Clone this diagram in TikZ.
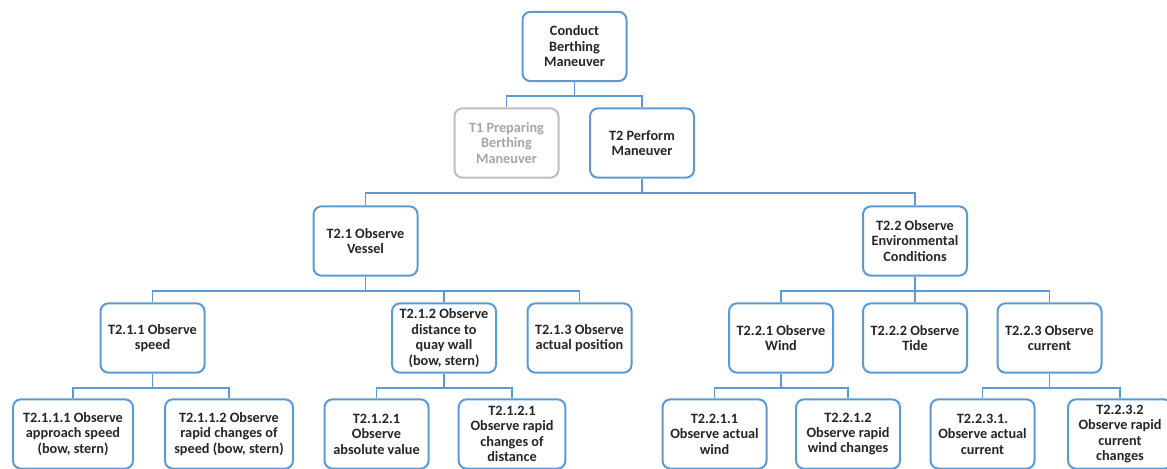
\documentclass[tikz,border=0pt]{standalone}
\usepackage{fontspec}
\setmainfont{Carlito}
\definecolor{taskblue}{RGB}{91,155,213}
\definecolor{greyout}{RGB}{190,190,190}
\definecolor{greytext}{RGB}{165,165,165}
\begin{document}
\begin{tikzpicture}[
    x=0.75pt, y=-0.75pt,
    task/.style={draw=taskblue, line width=1.5pt, rounded corners=6pt, fill=white,
        align=center, inner sep=2pt, minimum width=78pt, minimum height=52pt,
        text=black!85, font=\fontsize{10.7}{11.6}\selectfont\bfseries},
    inactive/.style={task, draw=greyout, text=greytext},
    edge/.style={draw=taskblue, line width=1.4pt}
]
\path[use as bounding box, clip] (0,0) rectangle (1167,468);

% Top: goal and first split
\node[task] (goal) at (574.5,46.5) {Conduct\\Berthing\\Maneuver};
\node[inactive] (t1) at (506.5,143) {T1 Preparing\\Berthing\\Maneuver};
\node[task] (t2) at (642,143) {T2 Perform\\Maneuver};

\draw[edge] (goal.south) -- ++(0,14) -| (t1.north);
\draw[edge] (goal.south) -- ++(0,14) -| (t2.north);

% Second level
\node[task] (t21) at (365.5,241) {T2.1 Observe\\Vessel};
\node[task] (t22) at (915,241) {T2.2 Observe\\Environmental\\Conditions};

\draw[edge] (t2.south) -- ++(0,14) -| (t21.north);
\draw[edge] (t2.south) -- ++(0,14) -| (t22.north);

% Left branch: vessel
\node[task] (t211) at (152.5,338) {T2.1.1 Observe\\speed};
\node[task] (t212) at (444,338) {T2.1.2 Observe\\distance to\\quay wall\\(bow, stern)};
\node[task] (t213) at (579.5,338) {T2.1.3 Observe\\actual position};

\draw[edge] (t21.south) -- ++(0,14) -| (t211.north);
\draw[edge] (t21.south) -- ++(0,14) -| (t212.north);
\draw[edge] (t21.south) -- ++(0,14) -| (t213.north);

\node[task, minimum width=90pt] (t2111) at (73,434) {T2.1.1.1 Observe\\approach speed\\(bow, stern)};
\node[task, minimum width=96pt] (t2112) at (229,434) {T2.1.1.2 Observe\\rapid changes of\\speed (bow, stern)};

\draw[edge] (t211.south) -- ++(0,14) -| (t2111.north);
\draw[edge] (t211.south) -- ++(0,14) -| (t2112.north);

\node[task] (t2121) at (376.5,434) {T2.1.2.1\\Observe\\absolute value};
\node[task, minimum width=80pt] (t2122) at (512,434) {T2.1.2.1\\Observe rapid\\changes of\\distance};

\draw[edge] (t212.south) -- ++(0,14) -| (t2121.north);
\draw[edge] (t212.south) -- ++(0,14) -| (t2122.north);

% Right branch: environment
\node[task] (t221) at (781,338) {T2.2.1 Observe\\Wind};
\node[task] (t222) at (915,338) {T2.2.2 Observe\\Tide};
\node[task] (t223) at (1049.5,338) {T2.2.3 Observe\\current};

\draw[edge] (t22.south) -- ++(0,14) -| (t221.north);
\draw[edge] (t22.south) -- (t222.north);
\draw[edge] (t22.south) -- ++(0,14) -| (t223.north);

\node[task] (t2211) at (714.5,434) {T2.2.1.1\\Observe actual\\wind};
\node[task] (t2212) at (848,434) {T2.2.1.2\\Observe rapid\\wind changes};

\draw[edge] (t221.south) -- ++(0,14) -| (t2211.north);
\draw[edge] (t221.south) -- ++(0,14) -| (t2212.north);

\node[task] (t2231) at (982.5,434) {T2.2.3.1.\\Observe actual\\current};
\node[task] (t2232) at (1120,434) {T2.2.3.2\\Observe rapid\\current\\changes};

\draw[edge] (t223.south) -- ++(0,14) -| (t2231.north);
\draw[edge] (t223.south) -- ++(0,14) -| (t2232.north);

\end{tikzpicture}
\end{document}
